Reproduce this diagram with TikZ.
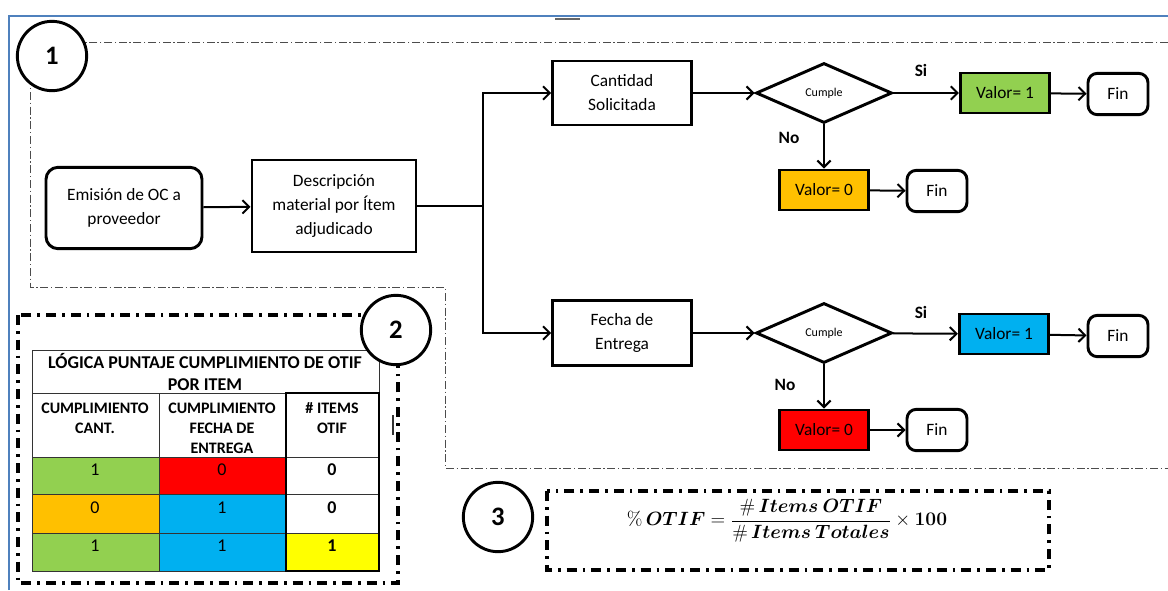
\documentclass[tikz,border=0pt]{standalone}
\usepackage[no-math]{fontspec}
\setmainfont{Carlito}
\usepackage{amsmath}
\usepackage{bm}
\usetikzlibrary{shapes.geometric,arrows.meta}
\definecolor{frameblue}{HTML}{4F81BD}
\definecolor{okgreen}{HTML}{92D050}
\definecolor{noorange}{HTML}{FFC000}
\definecolor{okblue}{HTML}{00B0F0}
\definecolor{nored}{HTML}{FF0000}
\definecolor{otifyellow}{HTML}{FFFF00}
\tikzset{
  proc/.style={draw, line width=2.2pt, align=center, inner sep=2pt,
    font=\fontsize{13}{18}\selectfont},
  startbox/.style={proc, rounded corners=9pt},
  decision/.style={draw, diamond, line width=2.2pt, minimum width=102pt,
    minimum height=45pt, inner sep=0pt, font=\fontsize{9}{10}\selectfont},
  valbox/.style={draw, line width=2.2pt, minimum width=67pt, minimum height=30pt,
    inner sep=1pt, font=\fontsize{13}{15}\selectfont},
  finbox/.style={draw, rounded corners=7pt, line width=2.2pt, minimum width=45pt,
    minimum height=31pt, font=\fontsize{13}{15}\selectfont},
  flow/.style={line width=1.5pt, -{Straight Barb[length=5pt,width=10pt]}},
  answer/.style={font=\bfseries\fontsize{13}{15}\selectfont},
  stepnum/.style={draw, circle, line width=2.2pt, fill=white, minimum size=52pt,
    inner sep=0pt, font=\bfseries\fontsize{20}{24}\selectfont},
  zone/.style={line width=2.6pt, dash pattern=on 7.5pt off 4.5pt on 2pt off 4.5pt},
  thinzone/.style={line width=0.6pt, black!70, dash pattern=on 6pt off 2pt on 1pt off 2pt},
  cell/.style={draw=black!80, line width=0.6pt},
  tabtitle/.style={align=center, font=\bfseries\fontsize{13.5}{16.5}\selectfont},
  tabhead/.style={align=center, anchor=north, font=\bfseries\fontsize{12}{15}\selectfont},
  tabnum/.style={font=\fontsize{13.5}{15}\selectfont},
}
\begin{document}
\begin{tikzpicture}[x=0.75pt,y=-0.75pt]
\useasboundingbox (0,0) rectangle (1168,590);
\draw[thinzone] (1168,42) -- (30,42) -- (30,287) -- (445,287) -- (445,468) -- (1168,468);
\draw[frameblue, line width=1.6pt] (9,590) -- (9,16) -- (1168,16);
\draw[black!60, line width=1pt] (555,19) -- (580,19);

\node[startbox, minimum width=117pt, minimum height=61pt] (emision) at (124,208) {Emisión de OC a\\proveedor};
\node[proc, minimum width=123pt, minimum height=69pt] (desc) at (334,206) {Descripción\\material por Ítem\\adjudicado};
\coordinate (split) at (483,206);
\node[proc, minimum width=104pt, minimum height=48pt] (cant) at (622,93) {Cantidad\\Solicitada};
\node[proc, minimum width=104pt, minimum height=49pt] (fecha) at (622,333) {Fecha de\\Entrega};

\node[decision] (cumple1) at (824,93) {Cumple};
\node[valbox, fill=okgreen] (val1a) at (1005,93) {Valor= 1};
\node[finbox] (fin1a) at (1118,94) {Fin};
\node[valbox, fill=noorange] (val0a) at (824,190) {Valor= 0};
\node[finbox] (fin0a) at (937,191) {Fin};
\node[answer] (si1) at (921,70) {Si};
\node[answer] (no1) at (789,138) {No};

\node[decision] (cumple2) at (824,333) {Cumple};
\node[valbox, fill=okblue] (val1b) at (1004,334) {Valor= 1};
\node[finbox] (fin1b) at (1118,336) {Fin};
\node[valbox, fill=nored] (val0b) at (824,430) {Valor= 0};
\node[finbox] (fin0b) at (937,430) {Fin};
\node[answer] (si2) at (921,312) {Si};
\node[answer] (no2) at (785,385) {No};

\draw[flow] (emision) -- (desc);
\draw[line width=1.5pt] (desc.east) -- (split);
\draw[flow] (split) |- (cant.west);
\draw[flow] (split) |- (fecha.west);
\draw[flow] (cant) -- (cumple1);
\draw[flow] (cumple1) -- (val1a);
\draw[flow] (val1a) -- (fin1a);
\draw[flow] (cumple1) -- (val0a);
\draw[flow] (val0a) -- (fin0a);
\draw[flow] (fecha) -- (cumple2);
\draw[flow] (cumple2) -- (val1b);
\draw[flow] (val1b) -- (fin1b);
\draw[flow] (cumple2) -- (val0b);
\draw[flow] (val0b) -- (fin0b);

\draw[zone] (18,315) rectangle (398,583);
\fill[okgreen] (32,457) rectangle (159,494);
\fill[nored] (159,457) rectangle (286,494);
\fill[noorange] (32,494) rectangle (159,533);
\fill[okblue] (159,494) rectangle (286,533);
\fill[okgreen] (32,533) rectangle (159,571);
\fill[okblue] (159,533) rectangle (286,571);
\fill[otifyellow] (286,533) rectangle (379,571);
\draw[cell] (32,350) rectangle (379,571);
\foreach \y in {393,457,494,533}
  \draw[cell] (32,\y) -- (379,\y);
\draw[cell] (159,393) -- (159,571);
\draw[line width=2.2pt] (286,393) rectangle (379,571);
\draw[black!80, line width=0.8pt] (393,415) -- (393,435);
\node[tabtitle] (titulo) at (205,372) {LÓGICA PUNTAJE CUMPLIMIENTO DE OTIF\\POR ITEM};
\node[tabhead] (hcant) at (95,398) {CUMPLIMIENTO\\CANT.};
\node[tabhead] (hfecha) at (222,398) {CUMPLIMIENTO\\FECHA DE\\ENTREGA};
\node[tabhead] (hotif) at (332,398) {\# ITEMS\\OTIF};
\node[tabnum] (r1c1) at (95,470) {1};
\node[tabnum] (r1c2) at (222,470) {0};
\node[tabnum, font=\bfseries\fontsize{13.5}{15}\selectfont] (r1c3) at (332,470) {0};
\node[tabnum] (r2c1) at (95,508) {0};
\node[tabnum] (r2c2) at (222,508) {1};
\node[tabnum, font=\bfseries\fontsize{13.5}{15}\selectfont] (r2c3) at (332,508) {0};
\node[tabnum] (r3c1) at (95,546) {1};
\node[tabnum] (r3c2) at (222,546) {1};
\node[tabnum, font=\bfseries\fontsize{13.5}{15}\selectfont] (r3c3) at (332,546) {1};

\draw[zone] (547,491) rectangle (1049,570);
\node[font=\fontsize{14}{17}\selectfont] (formula) at (787,521)
  {$\%\,\bm{OTIF}=\dfrac{\bm{\#\,Items\ OTIF}}{\bm{\#\,Items\ Totales}}\times\mathbf{100}$};

\node[stepnum] (paso1) at (52,56) {1};
\node[stepnum] (paso2) at (396,330) {2};
\node[stepnum] (paso3) at (498,517) {3};
\end{tikzpicture}
\end{document}
